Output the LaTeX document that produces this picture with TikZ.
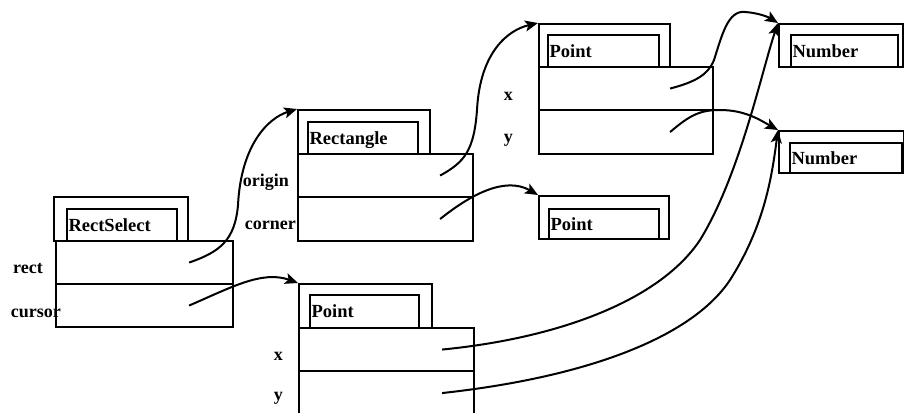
\documentclass[tikz,border=0pt]{standalone}
\usepackage{fontspec}
\setmainfont{Liberation Serif}
\usetikzlibrary{arrows.meta}
\begin{document}
\begin{tikzpicture}[x=1pt,y=-1pt,
  box/.style={draw, line width=2.1pt, anchor=north west, inner sep=0pt},
  tabbox/.style={box},
  namebox/.style={box, inner xsep=1.5pt, inner ysep=0pt, text height=12.5pt,
    text depth=0pt, align=left, font=\fontsize{18.5}{20}\selectfont\bfseries},
  fieldbox/.style={box},
  fieldlabel/.style={anchor=base east, inner sep=0pt,
    font=\fontsize{18}{20}\selectfont\bfseries},
  link/.style={line width=2pt, -{Stealth[length=13pt,width=11pt,inset=3pt]}},
]
\useasboundingbox (0,0) rectangle (904,412);

% RectSelect object
\node[tabbox, minimum width=134pt, minimum height=44pt] (rs-tab) at (53,196) {};
\node[namebox, text width=107pt, minimum height=32pt] (rs-name) at (66,208) {RectSelect};
\node[fieldbox, minimum width=177pt, minimum height=43pt] (rs-rect) at (55,240) {};
\node[fieldbox, minimum width=177pt, minimum height=43pt] (rs-cursor) at (55,283) {};
\node[fieldlabel] (l-rect) at (43,273) {rect};
\node[fieldlabel] (l-cursor) at (61,317) {cursor};

% Rectangle object
\node[tabbox, minimum width=132pt, minimum height=44pt] (re-tab) at (297,109) {};
\node[namebox, text width=107pt, minimum height=32pt] (re-name) at (307,121) {Rectangle};
\node[fieldbox, minimum width=175pt, minimum height=43pt] (re-origin) at (297,153) {};
\node[fieldbox, minimum width=175pt, minimum height=44pt] (re-corner) at (297,196) {};
\node[fieldlabel] (l-origin) at (289,186) {origin};
\node[fieldlabel] (l-corner) at (296,229) {corner};

% Point object (origin)
\node[tabbox, minimum width=131pt, minimum height=43pt] (pa-tab) at (538,23) {};
\node[namebox, text width=108pt, minimum height=32pt] (pa-name) at (547,34) {Point};
\node[fieldbox, minimum width=174pt, minimum height=43pt] (pa-x) at (538,66) {};
\node[fieldbox, minimum width=174pt, minimum height=44pt] (pa-y) at (538,109) {};
\node[fieldlabel] (l-pax) at (513,100) {x};
\node[fieldlabel] (l-pay) at (513,142) {y};

% Point object (corner), only its tab
\node[tabbox, minimum width=130pt, minimum height=43pt] (pb-tab) at (538,195) {};
\node[namebox, text width=107pt, minimum height=30pt] (pb-name) at (548,208) {Point};

% Point object (cursor)
\node[tabbox, minimum width=133pt, minimum height=44pt] (pc-tab) at (298,283) {};
\node[namebox, text width=106pt, minimum height=33pt] (pc-name) at (309,294) {Point};
\node[fieldbox, minimum width=175pt, minimum height=43pt] (pc-x) at (298,327) {};
\node[fieldbox, minimum width=175pt, minimum height=46pt] (pc-y) at (298,370) {};
\node[fieldlabel] (l-pcx) at (283,360) {x};
\node[fieldlabel] (l-pcy) at (283,400) {y};

% Number objects, only their tabs
\node[tabbox, minimum width=124pt, minimum height=43pt] (na-tab) at (778,23) {};
\node[namebox, text width=104pt, minimum height=32pt] (na-name) at (790,34) {Number};
\node[tabbox, minimum width=125pt, minimum height=42pt] (nb-tab) at (778,130) {};
\node[namebox, text width=109pt, minimum height=30pt] (nb-name) at (789,142) {Number};

% pointer origins inside the fields
\coordinate (s-rect)   at ([xshift=-45pt]rs-rect.east);
\coordinate (s-cursor) at ([xshift=-45pt]rs-cursor.east);
\coordinate (s-origin) at ([xshift=-34pt]re-origin.east);
\coordinate (s-corner) at ([xshift=-34pt]re-corner.east);
\coordinate (s-pax)    at ([xshift=-44pt]pa-x.east);
\coordinate (s-pay)    at ([xshift=-44pt]pa-y.east);
\coordinate (s-pcx)    at ([xshift=-33pt]pc-x.east);
\coordinate (s-pcy)    at ([xshift=-33pt,yshift=1pt]pc-y.east);

% pointers
\draw[link] (s-rect) .. controls (220,252) and (235,240) .. (238,205)
  .. controls (241,145) and (268,118) .. (re-tab.north west);
\draw[link] (s-cursor) .. controls (230,288) and (262,270) .. (pc-tab.north west);
\draw[link] (s-origin) .. controls (465,162) and (474,150) .. (477,110)
  .. controls (480,52) and (508,30) .. (pa-tab.north west);
\draw[link] (s-corner) .. controls (470,195) and (505,176) .. (pb-tab.north west);
\draw[link] (s-pax) .. controls (695,82) and (708,75) .. (714,60)
  .. controls (722,35) and (728,10) .. (745,12)
  .. controls (760,13) and (770,18) .. (na-tab.north west);
\draw[link] (s-pay) .. controls (690,115) and (700,110) .. (720,110)
  .. controls (745,110) and (760,120) .. (nb-tab.north west);
\draw[link] (s-pcx) .. controls (560,338) and (660,300) .. (700,240)
  .. controls (740,175) and (762,70) .. (na-tab.north west);
\draw[link] (s-pcy) .. controls (580,378) and (690,340) .. (730,280)
  .. controls (765,225) and (772,175) .. (nb-tab.north west);
\end{tikzpicture}
\end{document}
